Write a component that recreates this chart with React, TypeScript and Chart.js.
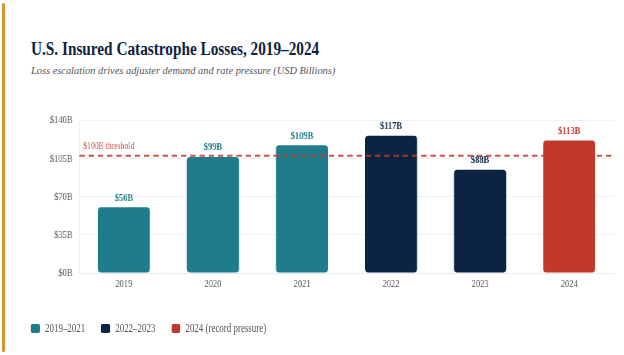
import React, { useEffect, useRef } from "react";
import { Chart, registerables } from "chart.js";

Chart.register(...registerables);

const years = ["2019", "2020", "2021", "2022", "2023", "2024"];
const losses = [56, 99, 109, 117, 88, 113];
const valueLabels = ["$56B", "$99B", "$109B", "$117B", "$88B", "$113B"];
const yTickLabels = ["$0B", "$35B", "$70B", "$105B", "$140B"];
const yMax = 130;
const threshold = 100;
const thresholdLabel = "$100B threshold";

const TEAL = "#1f7d8b";
const NAVY = "#0c2442";
const RED = "#c0392b";
const barColors = [TEAL, TEAL, TEAL, NAVY, NAVY, RED];
const legendLabels = ["2019–2021", "2022–2023", "2024 (record pressure)"];
const legendColors = [TEAL, NAVY, RED];

const SERIF = "'Liberation Serif', 'DejaVu Serif', serif";
const SX = 0.77;

const overlayPlugin = {
  id: "overlay",
  afterDatasetsDraw(chart: any) {
    const { ctx, chartArea, scales } = chart;
    const y = scales.y.getPixelForValue(threshold);
    ctx.save();
    ctx.strokeStyle = "rgba(192,57,43,0.85)";
    ctx.lineWidth = 2;
    ctx.setLineDash([7, 5]);
    ctx.beginPath();
    ctx.moveTo(chartArea.left, y);
    ctx.lineTo(chartArea.right, y);
    ctx.stroke();
    ctx.setLineDash([]);
    ctx.fillStyle = "rgba(192,57,43,0.85)";
    ctx.font = `10px ${SERIF}`;
    ctx.textAlign = "left";
    ctx.textBaseline = "bottom";
    ctx.fillText(thresholdLabel, chartArea.left + 5, y - 4);

    const meta = chart.getDatasetMeta(0);
    ctx.font = `bold 11px ${SERIF}`;
    ctx.textAlign = "center";
    ctx.textBaseline = "bottom";
    meta.data.forEach((bar: any, i: number) => {
      ctx.fillStyle = barColors[i];
      ctx.fillText(valueLabels[i], bar.x, bar.y - 4);
    });
    ctx.restore();
  },
};

function BarChart() {
  const ref = useRef<HTMLCanvasElement | null>(null);
  useEffect(() => {
    if (!ref.current) return;
    const chart = new Chart(ref.current, {
      type: "bar",
      data: {
        labels: years,
        datasets: [
          {
            data: losses,
            backgroundColor: barColors,
            borderRadius: 4,
            borderSkipped: false,
            barPercentage: 0.585,
            categoryPercentage: 1,
          },
        ],
      },
      options: {
        animation: false,
        responsive: false,
        maintainAspectRatio: false,
        layout: { padding: { top: 12, right: 13, left: 0, bottom: 0 } },
        plugins: {
          legend: { display: false },
          tooltip: { enabled: false },
        },
        scales: {
          x: {
            grid: { display: false, drawTicks: false },
            border: { color: "#e8ebef" },
            ticks: {
              color: "#555",
              font: { family: SERIF, size: 11 },
              padding: 5,
            },
            afterFit: (s: any) => {
              s.height = 32;
            },
          },
          y: {
            min: 0,
            max: yMax,
            afterBuildTicks: (s: any) => {
              s.ticks = yTickLabels.map((_, i) => ({
                value: (i * yMax) / (yTickLabels.length - 1),
              }));
            },
            grid: { color: "#f0f1f4", drawTicks: false },
            border: { color: "#e8ebef" },
            ticks: {
              color: "#555",
              font: { family: SERIF, size: 11 },
              padding: 9,
              callback: (_v: any, i: number) => yTickLabels[i],
            },
            afterFit: (s: any) => {
              s.width = 103;
            },
          },
        },
      },
      plugins: [overlayPlugin],
    });
    return () => chart.destroy();
  }, []);
  return (
    <canvas
      ref={ref}
      width={810}
      height={200}
      style={{ position: "absolute", left: 0, top: 105, width: 810, height: 200 }}
    />
  );
}

export default function App() {
  return (
    <div
      style={{
        position: "fixed",
        left: 0,
        top: 0,
        width: 624,
        height: 355,
        background: "#ffffff",
        overflow: "hidden",
      }}
    >
      <div
        style={{
          position: "absolute",
          left: 2,
          top: 3,
          width: 3,
          height: 349,
          background: "#d4952f",
          borderRadius: 2,
        }}
      />
      <div
        style={{
          position: "absolute",
          left: 31,
          top: 40,
          fontFamily: SERIF,
          fontWeight: 700,
          fontSize: 18.5,
          lineHeight: "18.5px",
          color: "#0c2340",
          whiteSpace: "nowrap",
          transform: "scaleX(0.825)",
          transformOrigin: "0 0",
        }}
      >
        U.S. Insured Catastrophe Losses, 2019–2024
      </div>
      <div
        style={{
          position: "absolute",
          left: 31,
          top: 66,
          fontFamily: SERIF,
          fontStyle: "italic",
          fontSize: 10.4,
          lineHeight: "10.4px",
          color: "#555",
          whiteSpace: "nowrap",
        }}
      >
        Loss escalation drives adjuster demand and rate pressure (USD Billions)
      </div>
      <div
        style={{
          position: "absolute",
          left: 0,
          top: 0,
          width: 810,
          height: 355,
          transform: `scaleX(${SX})`,
          transformOrigin: "0 0",
        }}
      >
        <BarChart />
        <div
          style={{
            position: "absolute",
            left: 40.3,
            top: 322,
            display: "flex",
            alignItems: "center",
            fontFamily: SERIF,
            fontSize: 11.6,
            color: "#555",
            whiteSpace: "nowrap",
          }}
        >
          {legendLabels.map((l, i) => (
            <div key={l} style={{ display: "flex", alignItems: "center", marginRight: 20.8 }}>
              <span
                style={{
                  display: "inline-block",
                  width: 11.7,
                  height: 9,
                  borderRadius: 2,
                  background: legendColors[i],
                  marginRight: 6.5,
                }}
              />
              <span>{l}</span>
            </div>
          ))}
        </div>
      </div>
    </div>
  );
}
